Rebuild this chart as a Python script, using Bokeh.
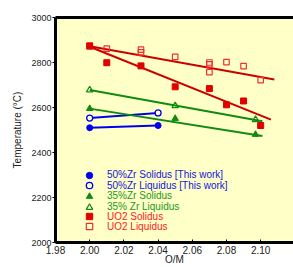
from bokeh.plotting import figure
from bokeh.models import (Legend, LegendItem, LinearAxis, FixedTicker, NumeralTickFormatter,
                          Range1d)
from bokeh.embed import file_html
from bokeh.resources import INLINE

# ---- data ----
om_50zr_sol = [2.00, 2.04]
t_50zr_sol = [2510, 2520]
om_50zr_liq = [2.00, 2.04]
t_50zr_liq = [2553, 2576]

om_35zr_sol = [2.00, 2.05, 2.097]
t_35zr_sol = [2595, 2551, 2480]
om_35zr_liq = [2.00, 2.05, 2.097]
t_35zr_liq = [2678, 2608, 2546]

om_uo2_sol = [2.00, 2.01, 2.03, 2.05, 2.07, 2.08, 2.09, 2.10]
t_uo2_sol = [2874, 2799, 2785, 2692, 2684, 2612, 2629, 2520]
om_uo2_liq = [2.00, 2.01, 2.03, 2.03, 2.05, 2.07, 2.07, 2.07, 2.08, 2.09, 2.10]
t_uo2_liq = [2872, 2862, 2857, 2845, 2825, 2800, 2792, 2757, 2802, 2784, 2722]

# fitted trend lines (end points)
fit_35zr_sol_om = [2.00, 2.101]
fit_35zr_sol_t = [2595, 2473]
fit_35zr_liq_om = [2.00, 2.101]
fit_35zr_liq_t = [2678, 2539]
fit_uo2_sol_om = [2.00, 2.106]
fit_uo2_sol_t = [2870, 2546]
fit_uo2_liq_om = [2.00, 2.108]
fit_uo2_liq_t = [2872, 2724]

labels = ["50%Zr Solidus [This work]", "50%Zr Liquidus [This work]",
          "35%Zr Solidus", "35% Zr Liquidus", "UO2 Solidus", "UO2 Liquidus"]

x_ticks = [1.98, 2.00, 2.02, 2.04, 2.06, 2.08, 2.10]
y_ticks = [2000, 2200, 2400, 2600, 2800, 3000]
x_min, x_max = 1.98, 2.1192
y_min, y_max = 2000, 3000

FONT = "Liberation Sans"
BLUE = "#0000EE"
GREEN = "#128A12"
RED = "#E00000"
RED_LINE = "#CC0000"
RED_OPEN = "#EE3030"

p = figure(width=293, height=267, output_backend="svg", toolbar_location=None,
           x_range=Range1d(x_min, x_max), y_range=Range1d(y_min, y_max),
           min_border_left=55, min_border_right=0, min_border_top=17, min_border_bottom=24,
           background_fill_color="#FFFFC8", border_fill_color="white")
p.outline_line_color = None
p.grid.visible = False

# axes styling
xa = p.xaxis[0]
xa.ticker = FixedTicker(ticks=x_ticks)
xa.formatter = NumeralTickFormatter(format="0.00")
xa.axis_label = "O/M"
ya = p.yaxis[0]
ya.ticker = FixedTicker(ticks=y_ticks)
ya.axis_label = "Temperature (°C)"
for ax in (xa, ya):
    ax.axis_line_width = 3
    ax.axis_line_color = "black"
    ax.minor_tick_line_color = None
    ax.major_tick_line_color = "black"
    ax.major_tick_line_width = 1
    ax.major_label_text_font = FONT
    ax.major_label_text_color = "#222222"
    ax.axis_label_text_font = FONT
    ax.axis_label_text_font_style = "normal"
    ax.axis_label_text_font_size = "10px"
    ax.axis_label_text_color = "#222222"
xa.major_tick_in = 3
xa.major_tick_out = 0
xa.major_label_text_font_size = "10px"
xa.major_label_standoff = 3
xa.axis_label_standoff = -3
ya.major_tick_in = 0
ya.major_tick_out = 3
ya.major_label_text_font_size = "9px"
ya.major_label_standoff = 1
ya.axis_label_standoff = 5

top = LinearAxis(ticker=FixedTicker(ticks=[]), axis_line_width=3, axis_line_color="black",
                 major_tick_in=0, major_tick_out=0, minor_tick_in=0, minor_tick_out=0,
                 major_label_text_font_size="0px")
p.add_layout(top, "above")

# trend lines
p.line(om_50zr_sol, t_50zr_sol, line_color=BLUE, line_width=2)
p.line(om_50zr_liq, t_50zr_liq, line_color=BLUE, line_width=2)
p.line(fit_35zr_sol_om, fit_35zr_sol_t, line_color=GREEN, line_width=2)
p.line(fit_35zr_liq_om, fit_35zr_liq_t, line_color=GREEN, line_width=2)
p.line(fit_uo2_sol_om, fit_uo2_sol_t, line_color=RED_LINE, line_width=2)
p.line(fit_uo2_liq_om, fit_uo2_liq_t, line_color=RED_LINE, line_width=2)

# markers
r_uo2_liq = p.scatter(om_uo2_liq, t_uo2_liq, marker="square", size=5.5, fill_color=None,
                      line_color=RED_OPEN, line_width=1.2)
r_uo2_sol = p.scatter(om_uo2_sol, t_uo2_sol, marker="square", size=6, fill_color=RED,
                      line_color=RED)
r_35_liq = p.scatter(om_35zr_liq, t_35zr_liq, marker="triangle", size=6.5, fill_color=None,
                     line_color=GREEN, line_width=1.2)
r_35_sol = p.scatter(om_35zr_sol, t_35zr_sol, marker="triangle", size=6.5, fill_color=GREEN,
                     line_color=GREEN)
r_50_liq = p.scatter(om_50zr_liq, t_50zr_liq, marker="circle", size=6, fill_color="#FFFFC8",
                     line_color=BLUE, line_width=1.3)
r_50_sol = p.scatter(om_50zr_sol, t_50zr_sol, marker="circle", size=6, fill_color=BLUE,
                     line_color=BLUE)

renderers = [r_50_sol, r_50_liq, r_35_sol, r_35_liq, r_uo2_sol, r_uo2_liq]
text_colors = ["#1515DD", "#1515DD", "#1A9A1A", "#1A9A1A", "#FF2020", "#FF2020"]
row_centres = [175.7, 186.0, 196.7, 207.7, 217.3, 227.3]  # canvas pixel rows
FRAME_BOTTOM = 267 - 24
GH = 16
LX = 34 - GH // 2
for lab, rend, col, yc in zip(labels, renderers, text_colors, row_centres):
    lg = Legend(items=[LegendItem(label=lab, renderers=[rend])],
                location=(LX, FRAME_BOTTOM - yc - GH / 2), padding=0, margin=0, spacing=0,
                glyph_width=GH, glyph_height=GH, label_height=GH,
                label_standoff=52 - LX - GH,
                label_text_font=FONT, label_text_font_size="10px", label_text_color=col,
                border_line_color=None, background_fill_alpha=0)
    p.add_layout(lg, "center")

open("out.html", "w").write(file_html(p, INLINE))
